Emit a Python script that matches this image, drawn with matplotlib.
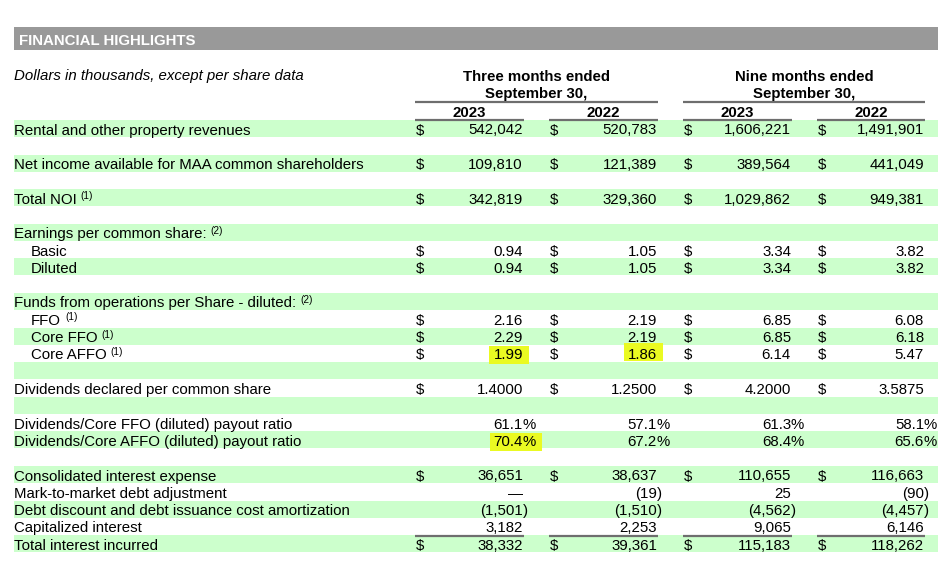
import matplotlib
matplotlib.use("Agg")
import matplotlib.pyplot as plt
from matplotlib.patches import Rectangle

plt.rcParams['font.family'] = ['Liberation Sans', 'DejaVu Sans']

# ---------------- data ----------------
title = "FINANCIAL HIGHLIGHTS"
subtitle = "Dollars in thousands, except per share data"
group_headers = ["Three months ended\nSeptember 30,", "Nine months ended\nSeptember 30,"]
year_headers = ["2023", "2022", "2023", "2022"]

labels = [
    "Rental and other property revenues", "",
    "Net income available for MAA common shareholders", "",
    "Total NOI", "",
    "Earnings per common share:", "Basic", "Diluted", "",
    "Funds from operations per Share - diluted:", "FFO", "Core FFO", "Core AFFO", "",
    "Dividends declared per common share", "",
    "Dividends/Core FFO (diluted) payout ratio",
    "Dividends/Core AFFO (diluted) payout ratio", "",
    "Consolidated interest expense", "Mark-to-market debt adjustment",
    "Debt discount and debt issuance cost amortization",
    "Capitalized interest", "Total interest incurred",
]
footnotes = ["", "", "", "", "(1)", "", "(2)", "", "", "", "(2)", "(1)", "(1)", "(1)", "",
             "", "", "", "", "", "", "", "", "", ""]
indented = [False] * 7 + [True, True, False, False, True, True, True] + [False] * 11

q3_2023 = ["542,042", "", "109,810", "", "342,819", "", "", "0.94", "0.94", "", "",
           "2.16", "2.29", "1.99", "", "1.4000", "", "61.1%", "70.4%", "",
           "36,651", "\u2014", "(1,501)", "3,182", "38,332"]
q3_2022 = ["520,783", "", "121,389", "", "329,360", "", "", "1.05", "1.05", "", "",
           "2.19", "2.19", "1.86", "", "1.2500", "", "57.1%", "67.2%", "",
           "38,637", "(19)", "(1,510)", "2,253", "39,361"]
ytd_2023 = ["1,606,221", "", "389,564", "", "1,029,862", "", "", "3.34", "3.34", "", "",
            "6.85", "6.85", "6.14", "", "4.2000", "", "61.3%", "68.4%", "",
            "110,655", "25", "(4,562)", "9,065", "115,183"]
ytd_2022 = ["1,491,901", "", "441,049", "", "949,381", "", "", "3.82", "3.82", "", "",
            "6.08", "6.18", "5.47", "", "3.5875", "", "58.1%", "65.6%", "",
            "116,663", "(90)", "(4,457)", "6,146", "118,262"]
columns = [q3_2023, q3_2022, ytd_2023, ytd_2022]

dollar_rows = [0, 2, 4, 7, 8, 11, 12, 13, 15, 20, 24]
highlights = [(13, 0), (13, 1), (18, 0)]

# ---------------- layout ----------------
W, H = 948, 563
fig = plt.figure(figsize=(W / 100, H / 100), dpi=100)
ax = fig.add_axes([0, 0, 1, 1])
ax.set_xlim(0, W)
ax.set_ylim(H, 0)
ax.axis('off')

FS = 10.85
left = 14
right_edge = 938
row_top0 = 120
row_h = 17.3
dollar_x = [416, 550, 684, 818]
num_right = [523, 657, 791, 924]
col_line = [(415, 524), (549, 658), (683, 792), (817, 925)]
band_color = '#ccffcc'
line_color = '#6e6e6e'

# title bar
ax.add_patch(Rectangle((left, 27), right_edge - left, 23, color='#999999', lw=0))
ax.text(left + 5, 45, title, color='white', fontsize=FS, fontweight='bold', va='baseline')

ax.text(left, 80, subtitle, fontsize=FS, style='italic', va='baseline')

# group headers
for g, (a, b) in enumerate([(col_line[0][0], col_line[1][1]), (col_line[2][0], col_line[3][1])]):
    l1, l2 = group_headers[g].split("\n")
    cx = (a + b) / 2
    ax.text(cx, 81, l1, fontsize=FS, fontweight='bold', ha='center', va='baseline')
    ax.text(cx, 98, l2, fontsize=FS, fontweight='bold', ha='center', va='baseline')
    ax.plot([a, b], [102, 102], color=line_color, lw=1.6, solid_capstyle='butt')
for c in range(4):
    a, b = col_line[c]
    ax.text((a + b) / 2, 117, year_headers[c], fontsize=FS, fontweight='bold', ha='center', va='baseline')
    ax.plot([a, b], [120, 120], color=line_color, lw=1.6, solid_capstyle='butt')

fig.canvas.draw()
renderer = fig.canvas.get_renderer()
inv = ax.transData.inverted()

def text_extent(t):
    bb = t.get_window_extent(renderer=renderer)
    (x0, y0), (x1, y1) = inv.transform([(bb.x0, bb.y0), (bb.x1, bb.y1)])
    return x0, x1, min(y0, y1), max(y0, y1)

# bands
for i in range(len(labels)):
    if i % 2 == 0:
        ax.add_patch(Rectangle((left, row_top0 + i * row_h), right_edge - left, row_h - 0.3,
                               color=band_color, lw=0, zorder=0))

value_texts = {}
for i, lab in enumerate(labels):
    base = row_top0 + i * row_h + 14.5
    if lab:
        x = left + (17 if indented[i] else 0)
        t = ax.text(x, base, lab, fontsize=FS, va='baseline', zorder=3)
        if footnotes[i]:
            fig.canvas.draw()
            x0, x1, _, _ = text_extent(t)
            ax.text(x1 + 4, base - 4.5, footnotes[i], fontsize=7.2, va='baseline', zorder=3)
    if i in dollar_rows:
        for c in range(4):
            ax.text(dollar_x[c], base, "$", fontsize=FS, va='baseline', zorder=3)
    for c in range(4):
        v = columns[c][i]
        if not v:
            continue
        if v[-1] in ")%":
            main, tail = v[:-1], v[-1]
            t = ax.text(num_right[c], base, main, fontsize=FS, ha='right', va='baseline', zorder=3)
            t2 = ax.text(num_right[c], base, tail, fontsize=FS, ha='left', va='baseline', zorder=3)
            value_texts[(i, c)] = (t, t2)
        else:
            t = ax.text(num_right[c], base, v, fontsize=FS, ha='right', va='baseline', zorder=3)
            value_texts[(i, c)] = (t, None)

fig.canvas.draw()
for (i, c) in highlights:
    t, t2 = value_texts[(i, c)]
    x0, x1, y0, y1 = text_extent(t)
    if t2 is not None:
        x1 = text_extent(t2)[1]
    top = row_top0 + i * row_h + 1.5 - (3 if c == 1 else 0)
    ax.add_patch(Rectangle((x0 - 4, top), (x1 - x0) + 10, row_h + 0.5,
                           color='#eafa22', lw=0, zorder=1))

# separator lines above total row
for c in range(4):
    a, b = col_line[c]
    y = row_top0 + 24 * row_h + 1
    ax.plot([a, b], [y, y], color=line_color, lw=1.6, solid_capstyle='butt', zorder=2)

fig.savefig("out.png", dpi=100)
